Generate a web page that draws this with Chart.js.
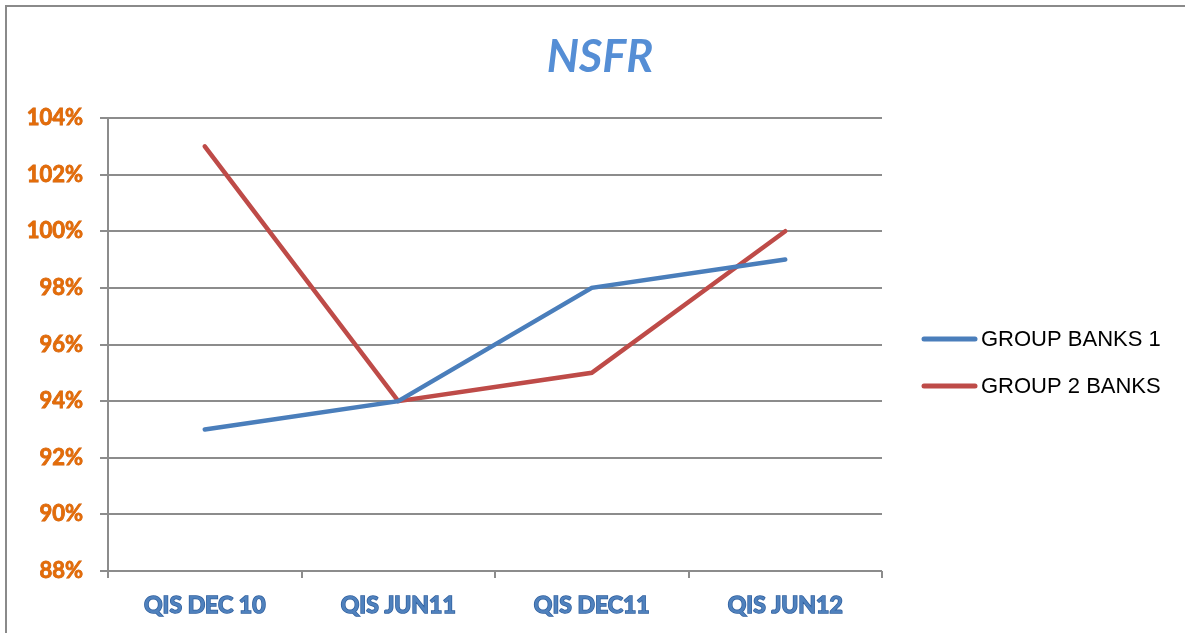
<!DOCTYPE html>
<html>
<head>
<meta charset="utf-8">
<script src="https://cdn.jsdelivr.net/npm/chart.js@4"></script>
<style>
  html, body { margin: 0; padding: 0; background: #fff; }
  #wrap { position: relative; width: 1185px; height: 633px; overflow: hidden; }
  #frame { position: absolute; left: 5px; top: 5px; width: 1190px; height: 640px;
           border-left: 2px solid #8a8a8a; border-top: 2px solid #8a8a8a; box-sizing: border-box; }
  canvas { position: absolute; left: 0; top: 0; }
</style>
</head>
<body>
<div id="wrap">
  <div id="frame"></div>
  <canvas id="c" width="1185" height="633"></canvas>
</div>
<script>
const categories = ["QIS DEC 10", "QIS JUN11", "QIS DEC11", "QIS JUN12"];
const group1Values = [93, 94, 98, 99];
const group2Values = [103, 94, 95, 100];
const seriesNames = ["GROUP BANKS 1", "GROUP 2 BANKS"];
const seriesColors = ["#4A7EBB", "#BE4B48"];
const yMin = 88, yMax = 104, yStep = 2;
const chartTitle = "NSFR";

const overlay = {
  id: 'overlay',
  afterDraw(chart) {
    const ctx = chart.ctx;
    ctx.save();
    // title
    ctx.fillStyle = '#558ED5';
    ctx.font = 'italic bold 45px Lato';
    ctx.textAlign = 'center';
    ctx.textBaseline = 'middle';
    ctx.fillText(chartTitle, 600, 57);
    // legend
    ctx.textAlign = 'left';
    ctx.font = '22px "Liberation Sans"';
    chart.data.datasets.forEach((ds, i) => {
      const y = 339 + i * 47;
      ctx.strokeStyle = ds.borderColor;
      ctx.lineWidth = 5;
      ctx.lineCap = 'round';
      ctx.beginPath();
      ctx.moveTo(924, y);
      ctx.lineTo(975, y);
      ctx.stroke();
      ctx.fillStyle = '#000';
      ctx.fillText(ds.label, 981, y + 1);
    });
    ctx.restore();
  }
};

new Chart(document.getElementById('c'), {
  type: 'line',
  data: {
    labels: categories,
    datasets: [
      { label: seriesNames[0], data: group1Values, borderColor: seriesColors[0], backgroundColor: seriesColors[0],
        borderWidth: 4.5, pointRadius: 0, tension: 0, borderCapStyle: 'round' },
      { label: seriesNames[1], data: group2Values, borderColor: seriesColors[1], backgroundColor: seriesColors[1],
        borderWidth: 4.5, pointRadius: 0, tension: 0, borderCapStyle: 'round' }
    ]
  },
  options: {
    responsive: false,
    animation: false,
    devicePixelRatio: 1,
    layout: { padding: { top: 118, right: 303, left: 0, bottom: 0 } },
    plugins: { legend: { display: false }, title: { display: false }, tooltip: { enabled: false } },
    scales: {
      x: {
        offset: true,
        grid: { display: true, drawOnChartArea: false, drawTicks: true, tickLength: 7, color: '#8c8c8c', lineWidth: 2, offset: true },
        border: { display: false },
        ticks: { color: '#4F81BD', font: { family: 'Lato', weight: 'bold', size: 23 }, padding: 14,
                 textStrokeColor: '#2F5F9E', textStrokeWidth: 1.5 },
        afterFit(s) { s.height = 62; }
      },
      y: {
        min: yMin, max: yMax,
        ticks: { stepSize: yStep, color: '#E36C09', font: { family: 'Lato', weight: 'bold', size: 22 }, padding: 17,
                 textStrokeColor: '#D0600A', textStrokeWidth: 0.8,
                 callback: v => v + '%' },
        grid: { color: '#8c8c8c', lineWidth: 2, tickLength: 8 },
        border: { display: true, color: '#8c8c8c', width: 2 },
        afterFit(s) { s.width = 108; }
      }
    }
  },
  plugins: [overlay]
});
</script>
</body>
</html>
